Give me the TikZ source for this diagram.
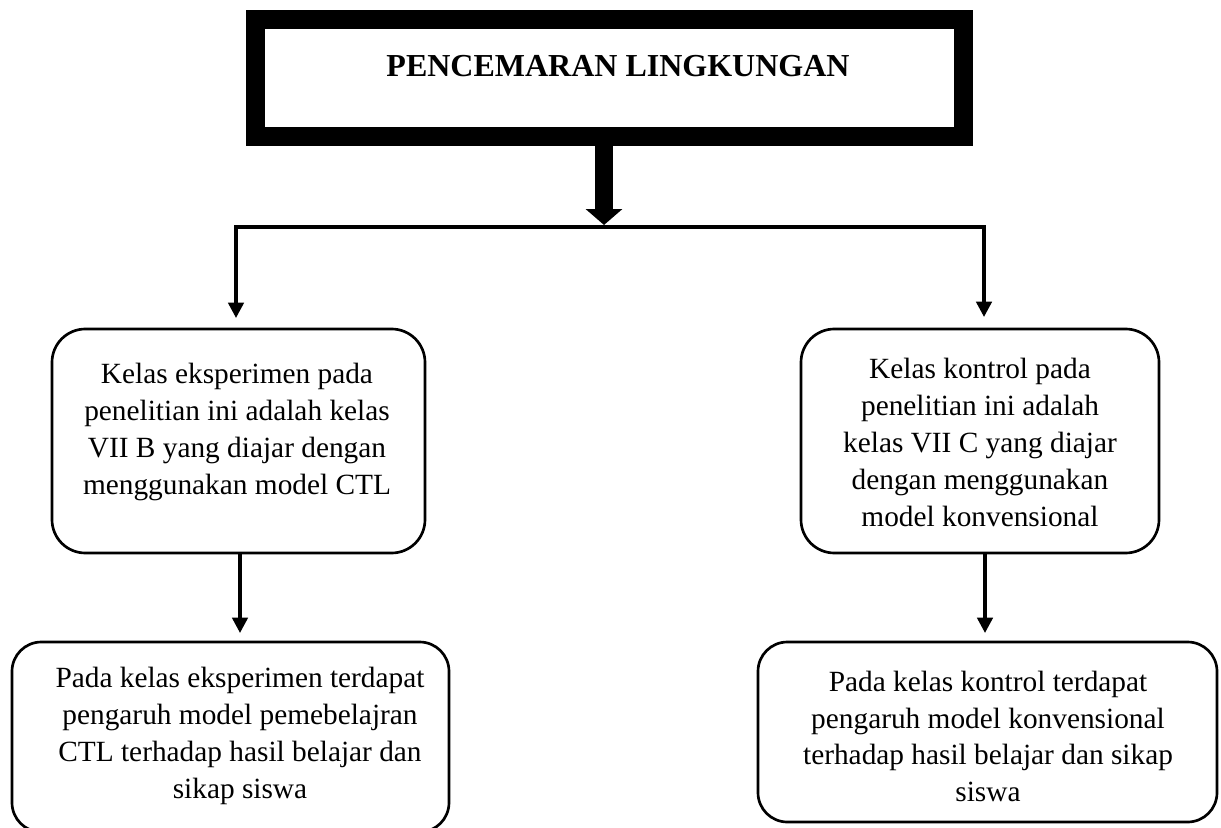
\documentclass[tikz,border=0pt]{standalone}
\usepackage{fontspec}
\setmainfont{Liberation Serif}
\usetikzlibrary{arrows.meta,calc}
\tikzset{
  boxframe/.style={draw, line width=2pt, rounded corners=#1, inner sep=0pt},
  bodytext/.style={align=center, inner sep=0pt, font=\fontsize{22pt}{27.6pt}\selectfont},
  conn/.style={line width=2.6pt, -{Triangle[width=11.5pt,length=11.5pt]}},
  bigconn/.style={line width=13.5pt, -{Triangle[width=27pt,length=12pt]}}
}
\begin{document}
\begin{tikzpicture}[x=0.75pt,y=-0.75pt]
\useasboundingbox (0,0) rectangle (1221,828);
% top box
\node[draw, line width=14.25pt, minimum width=531pt, minimum height=87.75pt, inner sep=0pt] (top) at (609.5,78) {};
\node[inner sep=0pt, font=\bfseries\fontsize{24pt}{28pt}\selectfont] (title) at (618,66) {PENCEMARAN LINGKUNGAN};
% middle boxes
\node[boxframe=25pt, minimum width=279.75pt, minimum height=168pt] (m1) at (238.5,441) {};
\node[boxframe=25pt, minimum width=268.5pt, minimum height=168pt] (m2) at (980,441) {};
\node[bodytext] (m1t) at (237,432) {Kelas eksperimen pada\\penelitian ini adalah kelas\\VII B yang diajar dengan\\menggunakan model CTL};
\node[bodytext] (m2t) at (980,442.5) {Kelas kontrol pada\\penelitian ini adalah\\kelas VII C yang diajar\\dengan menggunakan\\model konvensional};
% bottom boxes
\node[boxframe=22pt, minimum width=327.75pt, minimum height=142.5pt] (b1) at (230.5,737) {};
\node[boxframe=22pt, minimum width=344.25pt, minimum height=135pt] (b2) at (987.5,732) {};
\node[bodytext] (b1t) at (240,736) {Pada kelas eksperimen terdapat\\pengaruh model pemebelajran\\CTL terhadap hasil belajar dan\\sikap siswa};
\node[bodytext] (b2t) at (988,736.5) {Pada kelas kontrol terdapat\\pengaruh model konvensional\\terhadap hasil belajar dan sikap\\siswa};
% connectors
\coordinate (hub) at (604,227);
\coordinate (tipL) at (236,318);
\coordinate (tipR) at (984,317);
\draw[bigconn] (top.south -| hub) -- ($(hub)+(0,-2)$);
\draw[conn] (hub) -| (tipL);
\draw[conn] (hub) -| (tipR);
\coordinate (tipB1) at (240,633);
\coordinate (tipB2) at (985,633);
\draw[conn] (m1.south -| tipB1) -- (tipB1);
\draw[conn] (m2.south -| tipB2) -- (tipB2);
\end{tikzpicture}
\end{document}
